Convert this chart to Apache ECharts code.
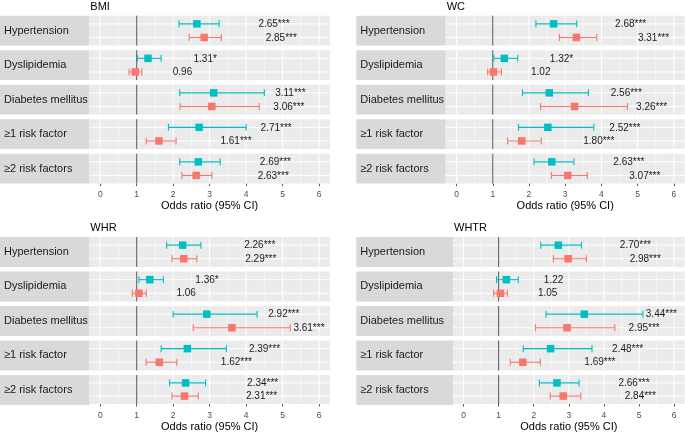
<!DOCTYPE html>
<html>
<head>
<meta charset="utf-8">
<script src="https://cdn.jsdelivr.net/npm/echarts@6/dist/echarts.min.js"></script>
<style>
html,body{margin:0;padding:0;background:#fff;}
#chart{width:685px;height:433px;}
</style>
</head>
<body>
<div id="chart"></div>
<script>
// ---------- DATA ----------
const panelTitles = ['BMI', 'WC', 'WHR', 'WHTR'];
const categories = ['Hypertension', 'Dyslipidemia', 'Diabetes mellitus', '\u22651 risk factor', '\u22652 risk factors'];
const xTicks = [0, 1, 2, 3, 4, 5, 6];
const xAxisTitle = 'Odds ratio (95% CI)';
const refValue = 1;

// BMI
const bmiTealEst = [2.65, 1.31, 3.11, 2.71, 2.69];
const bmiTealLo  = [2.16, 1.02, 2.18, 1.87, 2.18];
const bmiTealHi  = [3.26, 1.67, 4.50, 4.00, 3.29];
const bmiTealSig = ['***', '*', '***', '***', '***'];
const bmiSalEst  = [2.85, 0.96, 3.06, 1.61, 2.63];
const bmiSalLo   = [2.44, 0.79, 2.19, 1.26, 2.24];
const bmiSalHi   = [3.32, 1.14, 4.36, 2.08, 3.06];
const bmiSalSig  = ['***', '', '***', '***', '***'];

// WC
const wcTealEst = [2.68, 1.32, 2.56, 2.52, 2.63];
const wcTealLo  = [2.19, 1.03, 1.82, 1.71, 2.14];
const wcTealHi  = [3.32, 1.69, 3.64, 3.79, 3.24];
const wcTealSig = ['***', '*', '***', '***', '***'];
const wcSalEst  = [3.31, 1.02, 3.26, 1.80, 3.07];
const wcSalLo   = [2.84, 0.86, 2.32, 1.41, 2.62];
const wcSalHi   = [3.87, 1.24, 4.72, 2.34, 3.61];
const wcSalSig  = ['***', '', '***', '***', '***'];

// WHR
const whrTealEst = [2.26, 1.36, 2.92, 2.39, 2.34];
const whrTealLo  = [1.82, 1.06, 2.00, 1.67, 1.90];
const whrTealHi  = [2.76, 1.73, 4.30, 3.46, 2.89];
const whrTealSig = ['***', '*', '***', '***', '***'];
const whrSalEst  = [2.29, 1.06, 3.61, 1.62, 2.31];
const whrSalLo   = [1.97, 0.88, 2.55, 1.26, 1.97];
const whrSalHi   = [2.65, 1.26, 5.21, 2.10, 2.69];
const whrSalSig  = ['***', '', '***', '***', '***'];

// WHTR
const whtrTealEst = [2.70, 1.22, 3.44, 2.48, 2.66];
const whtrTealLo  = [2.20, 0.94, 2.35, 1.70, 2.16];
const whtrTealHi  = [3.36, 1.56, 5.11, 3.66, 3.29];
const whtrTealSig = ['***', '', '***', '***', '***'];
const whtrSalEst  = [2.98, 1.05, 2.95, 1.69, 2.84];
const whtrSalLo   = [2.56, 0.86, 2.05, 1.33, 2.47];
const whtrSalHi   = [3.50, 1.25, 4.31, 2.19, 3.34];
const whtrSalSig  = ['***', '', '***', '***', '***'];

// ---------- ASSEMBLY ----------
const panelData = [
  {teal: [bmiTealEst, bmiTealLo, bmiTealHi, bmiTealSig], sal: [bmiSalEst, bmiSalLo, bmiSalHi, bmiSalSig]},
  {teal: [wcTealEst, wcTealLo, wcTealHi, wcTealSig], sal: [wcSalEst, wcSalLo, wcSalHi, wcSalSig]},
  {teal: [whrTealEst, whrTealLo, whrTealHi, whrTealSig], sal: [whrSalEst, whrSalLo, whrSalHi, whrSalSig]},
  {teal: [whtrTealEst, whtrTealLo, whtrTealHi, whtrTealSig], sal: [whtrSalEst, whtrSalLo, whtrSalHi, whtrSalSig]}
];

const layout = [
  {stripL: 0,     stripR: 89.3,  right: 330,   top: 15.7},
  {stripL: 356.3, stripR: 445.7, right: 684.7, top: 15.7},
  {stripL: 0,     stripR: 89.3,  right: 330,   top: 237},
  {stripL: 356.3, stripR: 453,   right: 684.7, top: 237}
];
const rowH = 29.9, rowGap = 4.6;
const FONT = '"Liberation Sans", Arial, Helvetica, sans-serif';
const TEAL = '#00BFC4', SALMON = '#F8766D';

const grids = [], xAxes = [], yAxes = [], series = [], graphics = [];
const xMinor = xTicks.slice(1).map((v, i) => (v + xTicks[i]) / 2);

layout.forEach((L, p) => {
  graphics.push({
    type: 'text', left: L.stripR + 1, top: L.top - 14.5,
    style: {text: panelTitles[p], fontSize: 11, fontFamily: FONT, fill: '#000'}
  });
  categories.forEach((cat, r) => {
    const top = L.top + r * (rowH + rowGap);
    const gi = grids.length;
    grids.push({left: L.stripR, top: top, width: L.right - L.stripR, height: rowH,
      show: true, backgroundColor: '#EBEBEB', borderWidth: 0, containLabel: false});
    const last = r === categories.length - 1;
    xAxes.push({
      gridIndex: gi, type: 'value', min: -0.3, max: 6.3,
      axisLine: {show: false},
      axisTick: {show: last, length: 2.5, lineStyle: {color: '#333', width: 0.8}, customValues: xTicks},
      axisLabel: {show: last, customValues: xTicks, fontSize: 8.5, color: '#4D4D4D', margin: 7, fontFamily: FONT},
      splitLine: {show: false},
      name: last ? xAxisTitle : '', nameLocation: 'middle', nameGap: 17,
      nameTextStyle: {fontSize: 11, color: '#000', fontFamily: FONT}
    });
    yAxes.push({gridIndex: gi, type: 'value', min: 0.4, max: 2.6, inverse: true, show: false});

    // strip
    graphics.push({type: 'rect', shape: {x: L.stripL, y: top, width: L.stripR - L.stripL, height: rowH},
      style: {fill: '#D9D9D9'}, z: -1});
    graphics.push({type: 'text', x: L.stripL + 4, y: top + rowH / 2,
      style: {text: cat, fontSize: 11, fontFamily: FONT, fill: '#1A1A1A', verticalAlign: 'middle', align: 'left'}});

    // gridlines
    series.push({
      type: 'custom', xAxisIndex: gi, yAxisIndex: gi, silent: true, z: 1,
      data: [[0]],
      renderItem: function (params, api) {
        const ch = [];
        const yT = api.coord([0, 0.4])[1], yB = api.coord([0, 2.6])[1];
        const xL = api.coord([-0.3, 1])[0], xR = api.coord([6.3, 1])[0];
        xMinor.forEach(v => {
          const x = api.coord([v, 1])[0];
          ch.push({type: 'line', shape: {x1: x, y1: yT, x2: x, y2: yB}, style: {stroke: '#fff', lineWidth: 0.5}});
        });
        xTicks.forEach(v => {
          const x = api.coord([v, 1])[0];
          ch.push({type: 'line', shape: {x1: x, y1: yT, x2: x, y2: yB}, style: {stroke: '#fff', lineWidth: 1}});
        });
        [1, 2].forEach(v => {
          const y = api.coord([0, v])[1];
          ch.push({type: 'line', shape: {x1: xL, y1: y, x2: xR, y2: y}, style: {stroke: '#fff', lineWidth: 1}});
        });
        const xr = api.coord([refValue, 1])[0];
        ch.push({type: 'line', shape: {x1: xr, y1: yT, x2: xr, y2: yB}, style: {stroke: '#555', lineWidth: 1}});
        return {type: 'group', children: ch};
      }
    });

    // estimates with CIs
    const D = panelData[p];
    const items = [
      [D.teal[0][r], D.teal[1][r], D.teal[2][r], 1, D.teal[3][r], TEAL],
      [D.sal[0][r], D.sal[1][r], D.sal[2][r], 2, D.sal[3][r], SALMON]
    ];
    series.push({
      type: 'custom', xAxisIndex: gi, yAxisIndex: gi, z: 3,
      data: items.map(it => it.slice(0, 4)),
      renderItem: function (params, api) {
        const it = items[params.dataIndex];
        const est = api.value(0), lo = api.value(1), hi = api.value(2), lev = api.value(3);
        const pE = api.coord([est, lev]), pL = api.coord([lo, lev]), pH = api.coord([hi, lev]);
        const c = it[5], cap = 3.5, sq = 7.5;
        const nStars = it[4].length;
        return {type: 'group', children: [
          {type: 'line', shape: {x1: pL[0], y1: pE[1], x2: pH[0], y2: pE[1]}, style: {stroke: c, lineWidth: 1.1}},
          {type: 'line', shape: {x1: pL[0], y1: pE[1] - cap, x2: pL[0], y2: pE[1] + cap}, style: {stroke: c, lineWidth: 1.1}},
          {type: 'line', shape: {x1: pH[0], y1: pE[1] - cap, x2: pH[0], y2: pE[1] + cap}, style: {stroke: c, lineWidth: 1.1}},
          {type: 'rect', shape: {x: pE[0] - sq / 2, y: pE[1] - sq / 2, width: sq, height: sq}, style: {fill: c}},
          {type: 'text', x: pE[0] + 37.5 + 8 * nStars, y: pE[1] + 0.5,
            style: {text: est.toFixed(2) + it[4], fontSize: 10, fontFamily: FONT, fill: '#1A1A1A',
              align: 'left', verticalAlign: 'middle'}}
        ]};
      }
    });
  });
});

const chart = echarts.init(document.getElementById('chart'), null, {renderer: 'canvas'});
chart.setOption({
  animation: false,
  backgroundColor: '#fff',
  grid: grids, xAxis: xAxes, yAxis: yAxes, series: series,
  graphic: graphics
});
</script>
</body>
</html>
